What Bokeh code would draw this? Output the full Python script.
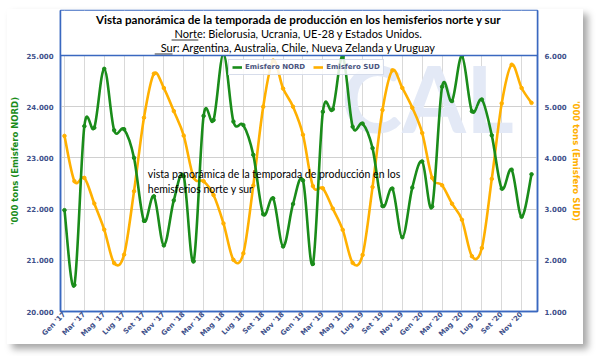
import math
from bokeh.plotting import figure
from bokeh.models import (Range1d, LinearAxis, FixedTicker, Span, Legend, LegendItem,
                          ColumnDataSource)
from bokeh.core.properties import value
from bokeh.embed import file_html
from bokeh.resources import INLINE

# ---------------- data ----------------
months = ["Gen", "Feb", "Mar", "Apr", "Mag", "Giu", "Lug", "Ago", "Set", "Ott", "Nov", "Dic"]
years = ["17", "18", "19", "20"]
categories = [f"{m} '{y}" for y in years for m in months]

nord = [21980, 20520, 23620, 23590, 24740, 23540, 23560, 23000, 21770, 22250, 21290, 22170,
        22640, 20980, 23820, 23740, 25030, 23710, 23640, 23060, 21900, 22210, 21270, 22100,
        22560, 20930, 23900, 23950, 24980, 23610, 23670, 23190, 22060, 22400, 21450, 22420,
        22930, 22050, 24390, 24110, 24990, 23910, 24140, 23440, 22400, 22770, 21850, 22680]

sud = [4430, 3545, 3610, 3110, 2600, 1945, 2110, 3350, 4785, 5645, 5365, 4915,
       4435, 3620, 3545, 3275, 2720, 2010, 2135, 3460, 5000, 5900, 5355, 5000,
       4450, 3450, 3405, 3010, 2595, 1950, 2105, 3430, 4935, 5710, 5365, 4980,
       4485, 3610, 3465, 3105, 2790, 2080, 2240, 3590, 5065, 5820, 5365, 5075]

left_ticks = [20000, 21000, 22000, 23000, 24000, 25000]
right_ticks = [1000, 2000, 3000, 4000, 5000, 6000]
left_labels = ["20.000", "21.000", "22.000", "23.000", "24.000", "25.000"]
right_labels = ["1.000", "2.000", "3.000", "4.000", "5.000", "6.000"]

title_lines = ["Vista panorámica de la temporada de producción en los hemisferios norte y sur",
               "Norte: Bielorusia, Ucrania, UE-28 y Estados Unidos.",
               "Sur: Argentina, Australia, Chile, Nueva Zelanda y Uruguay"]
note_lines = ["vista panorámica de la temporada de producción en los",
              "hemisferios norte y sur"]
series_names = ["Emisfero NORD", "Emisfero SUD"]

# ---------------- geometry (window pixels) ----------------
OX, OY = 7, 9                       # panel offset inside the window
PW, PH = 576, 335                   # panel size
FL, FR, FT, FB = 60, 541, 10, 311   # plot frame in window pixels
XMIN, XMAX = -0.4, len(categories) - 0.4
YMIN, YMAX = 20000, 25879
RMIN, RMAX = 1000, 1000 + (YMAX - YMIN)


def dx(px):
    return XMIN + (px - FL) / (FR - FL) * (XMAX - XMIN)


def dy(py):
    return YMIN + (FB - py) / (FB - FT) * (YMAX - YMIN)


GREEN = "#1a8c1a"
ORANGE = "#ffb000"
BLUE = "#3a68c0"
TICKC = "#40508a"

p = figure(width=PW, height=PH, output_backend="svg", toolbar_location=None,
           x_range=Range1d(XMIN, XMAX), y_range=Range1d(YMIN, YMAX),
           min_border_left=FL - OX, min_border_right=OX + PW - FR, min_border_top=FT - OY,
           min_border_bottom=OY + PH - FB, background_fill_color="white",
           border_fill_color="white", margin=(OY, 0, 0, OX),
           styles={"box-shadow": "5px 5px 7px rgba(0,0,0,0.35)"})
p.extra_y_ranges = {"sud": Range1d(RMIN, RMAX)}

# watermark
p.text(x=[dx(430)], y=[dy(97)], text=["CAL"], text_font=value("Lato"), text_font_style="bold",
       text_font_size="92px", text_color="#e3e9f6", text_align="center", text_baseline="middle")

# axes
p.xaxis.ticker = FixedTicker(ticks=list(range(0, len(categories), 2)))
p.xaxis.major_label_overrides = {i: categories[i] for i in range(0, len(categories), 2)}
p.xaxis.major_label_orientation = math.pi / 4
p.xaxis.major_label_text_font = "DejaVu Sans"
p.xaxis.major_label_text_font_style = "bold"
p.xaxis.major_label_text_font_size = "7px"
p.xaxis.major_label_text_color = TICKC
p.xaxis.major_label_standoff = 2
p.xaxis.axis_line_color = BLUE
p.xaxis.axis_line_width = 1.5

p.yaxis.ticker = FixedTicker(ticks=left_ticks)
p.yaxis.major_label_overrides = dict(zip(left_ticks, left_labels))
p.yaxis.axis_label = "'000 tons (Emisfero NORD)"
p.yaxis.axis_label_text_color = GREEN
p.yaxis.axis_label_text_font = "DejaVu Sans"
p.yaxis.axis_label_text_font_style = "bold"
p.yaxis.axis_label_text_font_size = "8.5px"
p.yaxis.axis_label_standoff = 3
p.yaxis.axis_line_color = BLUE
p.yaxis.axis_line_width = 1.5

ra = LinearAxis(y_range_name="sud", ticker=FixedTicker(ticks=right_ticks),
                major_label_overrides=dict(zip(right_ticks, right_labels)),
                axis_label="'000 tons (Emisfero SUD)")
ra.axis_label_text_color = ORANGE
ra.axis_label_text_font = "DejaVu Sans"
ra.axis_label_text_font_style = "bold"
ra.axis_label_text_font_size = "8.5px"
ra.axis_label_standoff = 1
ra.axis_line_color = BLUE
ra.axis_line_width = 1.5
p.add_layout(ra, "right")

for ax in [p.xaxis[0], p.yaxis[0], ra]:
    ax.major_tick_line_color = None
    ax.minor_tick_line_color = None
    ax.major_tick_out = 0
    ax.major_tick_in = 0
    ax.minor_tick_out = 0
    ax.minor_tick_in = 0
for ax in [p.yaxis[0], ra]:
    ax.major_label_text_font = "DejaVu Sans"
    ax.major_label_text_font_style = "bold"
    ax.major_label_text_font_size = "7px"
    ax.major_label_text_color = TICKC
ra.major_label_standoff = 4
p.yaxis.major_label_standoff = 7

p.xgrid.ticker = FixedTicker(ticks=list(range(0, len(categories), 2)))
p.ygrid.ticker = FixedTicker(ticks=left_ticks)
p.xgrid.grid_line_color = "#d9d9d9"
p.ygrid.grid_line_color = "#d0d0d0"
p.outline_line_color = BLUE
p.outline_line_width = 1.5


# smoothed lines (cubic bezier through each data point)
def bez_source(vals):
    n = len(vals)
    pts = [(float(i), float(v)) for i, v in enumerate(vals)]
    d = dict(x0=[], y0=[], x1=[], y1=[], cx0=[], cy0=[], cx1=[], cy1=[])
    for i in range(n - 1):
        a = pts[max(i - 1, 0)]
        b = pts[i]
        c = pts[i + 1]
        e = pts[min(i + 2, n - 1)]
        d["x0"].append(b[0]); d["y0"].append(b[1])
        d["x1"].append(c[0]); d["y1"].append(c[1])
        d["cx0"].append(b[0] + (c[0] - a[0]) / 6); d["cy0"].append(b[1] + (c[1] - a[1]) / 6)
        d["cx1"].append(c[0] - (e[0] - b[0]) / 6); d["cy1"].append(c[1] - (e[1] - b[1]) / 6)
    return ColumnDataSource(d)


xs = list(range(len(categories)))
r_sud = p.bezier(x0="x0", y0="y0", x1="x1", y1="y1", cx0="cx0", cy0="cy0", cx1="cx1", cy1="cy1",
                 source=bez_source(sud), line_color=ORANGE, line_width=2.6, y_range_name="sud")
p.scatter(xs, sud, size=3.5, color=ORANGE, y_range_name="sud")
r_nord = p.bezier(x0="x0", y0="y0", x1="x1", y1="y1", cx0="cx0", cy0="cy0", cx1="cx1", cy1="cy1",
                  source=bez_source(nord), line_color=GREEN, line_width=2.6)
p.scatter(xs, nord, size=3.5, color=GREEN)

# title box (white, on top of the lines)
p.quad(left=[XMIN], right=[XMAX], bottom=[YMIN + 5000], top=[YMAX], fill_color="white",
       line_color=None)
p.add_layout(Span(location=25000, dimension="width", line_color=BLUE, line_width=1.5))

p.text(x=[dx(300)], y=[dy(19)], text=[title_lines[0]], text_font=value("Lato"),
       text_font_style="bold", text_font_size="11.6px", text_color="black",
       text_align="center", text_baseline="middle")
p.text(x=[dx(300), dx(300)], y=[dy(33), dy(47)], text=title_lines[1:], text_font=value("Lato"),
       text_font_size="11px", text_color="black", text_align="center", text_baseline="middle")
# underlines for "Norte" and "Sur"
p.segment(x0=[dx(172), dx(155)], x1=[dx(199), dx(173)], y0=[dy(39.5), dy(53.5)],
          y1=[dy(39.5), dy(53.5)], line_color="black", line_width=0.8)

# stray text box
p.text(x=[dx(148), dx(148)], y=[dy(173), dy(188)], text=note_lines, text_font=value("Lato"),
       text_font_size="10.5px", text_color="black", text_align="left", text_baseline="middle")

legend = Legend(items=[LegendItem(label=series_names[0], renderers=[r_nord]),
                       LegendItem(label=series_names[1], renderers=[r_sud])],
                location=(168, 236), orientation="horizontal", margin=0, padding=3,
                spacing=8, label_text_font="DejaVu Sans", label_text_font_style="bold",
                label_text_font_size="7px", label_text_color="#4a5580",
                glyph_width=10, glyph_height=8, label_standoff=3, label_height=8,
                border_line_color="#b0bcd8", background_fill_alpha=0.85)
p.add_layout(legend)

open("out.html", "w").write(file_html(p, INLINE))
